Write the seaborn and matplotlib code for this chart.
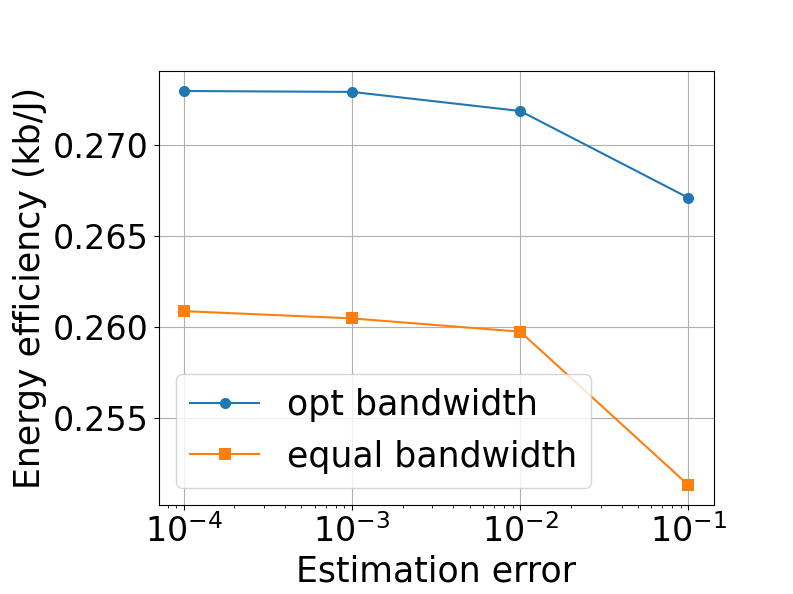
import matplotlib
matplotlib.use("Agg")
import matplotlib.pyplot as plt
import seaborn as sns
import pandas as pd

errors = [1e-4, 1e-3, 1e-2, 1e-1]
opt_bw = [0.27297, 0.27292, 0.27187, 0.26710]
equal_bw = [0.26088, 0.26048, 0.25975, 0.25132]
labels = ["opt bandwidth", "equal bandwidth"]

df = pd.DataFrame({
    "err": errors * 2,
    "ee": opt_bw + equal_bw,
    "method": [labels[0]] * 4 + [labels[1]] * 4,
})

plt.rcParams["font.size"] = 24
fig, ax = plt.subplots(figsize=(7.93, 5.94), dpi=100)
fig.subplots_adjust(left=0.2, bottom=0.15, right=0.9, top=0.88)

sns.lineplot(data=df, x="err", y="ee", hue="method", style="method",
             markers=["o", "s"], dashes=False, markersize=8,
             markeredgewidth=0, palette=["#1f77b4", "#ff7f0e"], ax=ax)
ax.set_xscale("log")
ax.grid(True, color="#b0b0b0", linewidth=0.8)
ax.set_axisbelow(True)
ax.set_xlabel("Estimation error", fontsize=25)
ax.set_ylabel("Energy efficiency (kb/J)", fontsize=25)
ax.tick_params(labelsize=24)
ax.set_yticks([0.255, 0.260, 0.265, 0.270])
ax.set_yticklabels(["0.255", "0.260", "0.265", "0.270"])
ax.legend(title=None, loc="lower left", fontsize=25)
for s in ax.spines.values():
    s.set_color("black")
fig.savefig("out.png", dpi=100)
